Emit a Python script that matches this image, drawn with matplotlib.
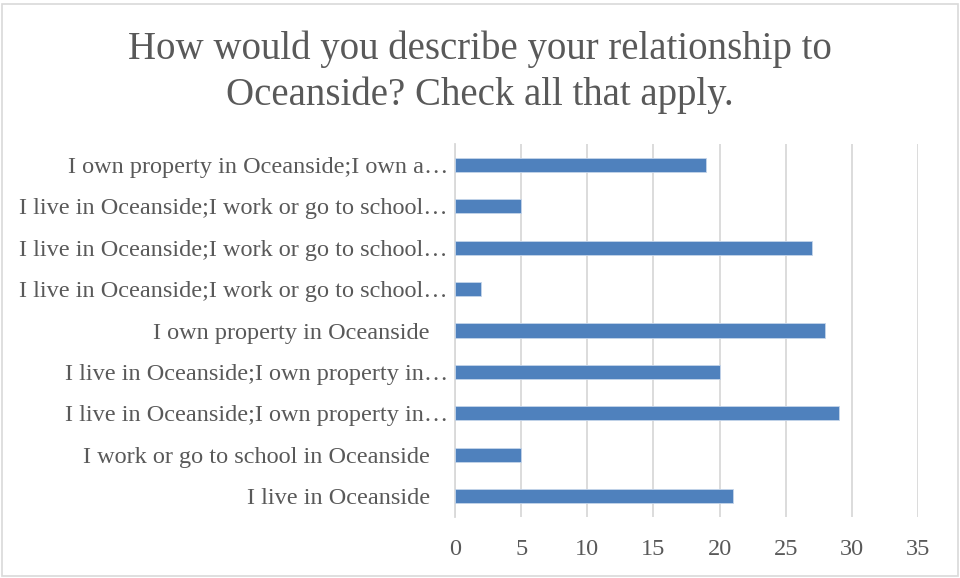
import matplotlib.pyplot as plt
from matplotlib.patches import Rectangle

# categories listed bottom to top, as drawn
labels = [
    "I live in Oceanside",
    "I work or go to school in Oceanside",
    "I live in Oceanside;I own property in…",
    "I live in Oceanside;I own property in…",
    "I own property in Oceanside",
    "I live in Oceanside;I work or go to school…",
    "I live in Oceanside;I work or go to school…",
    "I live in Oceanside;I work or go to school…",
    "I own property in Oceanside;I own a…",
]
counts = [21, 5, 29, 20, 28, 2, 27, 5, 19]
xticks = [0, 5, 10, 15, 20, 25, 30, 35]

txt = "#595959"
plt.rcParams['font.family'] = ['Liberation Serif', 'DejaVu Serif']

fig = plt.figure(figsize=(9.6, 5.78), dpi=100)
ax = fig.add_axes([455 / 960, 1 - 517 / 578, (918 - 455) / 960, (517 - 144) / 578])

ax.barh(range(len(labels)), counts, height=0.34, color="#4F81BD",
        edgecolor="#C5D5EA", linewidth=0.6, zorder=3)

ax.set_xlim(0, 35)
ax.set_ylim(-0.5, len(labels) - 0.5)
ax.set_xticks(xticks)
ax.set_yticks(range(len(labels)))
# labels that were not cut short sit a little further from the axis
ax.set_yticklabels([s if s.endswith("…") else s + "   " for s in labels])
ax.grid(axis="x", color="#D9D9D9", linewidth=1.3, zorder=0)
for s in ["top", "right", "bottom"]:
    ax.spines[s].set_visible(False)
ax.spines["left"].set_color("#D9D9D9")
ax.spines["left"].set_linewidth(1.3)
ax.tick_params(axis="both", length=0, colors=txt, labelsize=17.5)
ax.tick_params(axis="x", pad=16)
ax.tick_params(axis="y", pad=5)

fig.text(0.5, 1 - 72 / 578, "How would you describe your relationship to\nOceanside? Check all that apply.",
         ha="center", va="center", fontsize=28, color=txt, linespacing=1.3)

fig.patches.append(Rectangle((2 / 960, 2 / 578), 1 - 4 / 960, 1 - 6 / 578,
                             transform=fig.transFigure, fill=False,
                             edgecolor="#D9D9D9", linewidth=1.2))

fig.savefig("out.png", dpi=100)
